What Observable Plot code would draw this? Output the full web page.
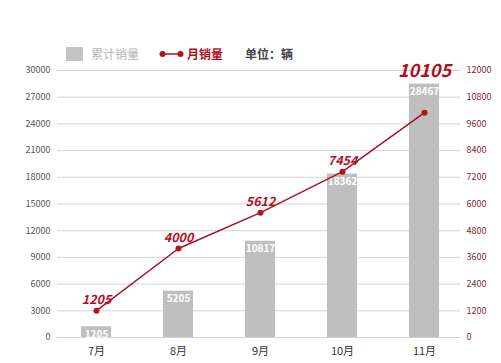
<!DOCTYPE html>
<html><head><meta charset="utf-8">
<script src="https://cdn.jsdelivr.net/npm/d3@7"></script>
<script src="https://cdn.jsdelivr.net/npm/@observablehq/plot@0.6"></script>
<style>
body{margin:0;background:#fff;font-family:"Noto Sans CJK SC","Noto Sans",sans-serif}
#wrap{position:relative;width:501px;height:363px;overflow:hidden}
#legend{position:absolute;left:0;top:0;width:501px;height:70px}
.sw{position:absolute;left:66px;top:47px;width:17px;height:14px;background:#c4c4c4}
.t{position:absolute;top:45px;font-size:12px;line-height:18px;white-space:nowrap}
#chart{position:absolute;left:0;top:0}
</style></head>
<body>
<div id="wrap">
<div id="chart"></div>
<div id="legend">
  <div class="sw"></div>
  <div class="t" style="left:91px;color:#b4b4b4">累计销量</div>
  <svg style="position:absolute;left:158px;top:49px" width="28" height="10">
    <line x1="4" y1="5" x2="23" y2="5" stroke="#a8121f" stroke-width="1.5"/>
    <circle cx="4.5" cy="5" r="3" fill="#b5121b"/>
    <circle cx="22.5" cy="5" r="3" fill="#b5121b"/>
  </svg>
  <div class="t" style="left:187px;color:#b0101e;font-weight:bold">月销量</div>
  <div class="t" style="left:245px;color:#444;font-weight:bold">单位：辆</div>
</div>
</div>
<script>
const months = ["7月", "8月", "9月", "10月", "11月"];
const cumulative = [1205, 5205, 10817, 18362, 28467];
const monthly = [1205, 4000, 5612, 7454, 10105];
const leftTicks = [0, 3000, 6000, 9000, 12000, 15000, 18000, 21000, 24000, 27000, 30000];
const rightTicks = [0, 1200, 2400, 3600, 4800, 6000, 7200, 8400, 9600, 10800, 12000];
const ratio = 30000 / 12000;

const data = months.map((m, i) => ({
  month: m, cum: cumulative[i], mon: monthly[i], monScaled: monthly[i] * ratio
}));

const chart = Plot.plot({
  width: 501, height: 363,
  marginLeft: 57, marginRight: 41, marginTop: 70, marginBottom: 26,
  style: {fontFamily: '"Noto Sans CJK SC","Noto Sans",sans-serif', background: "transparent"},
  x: {domain: months, range: [52.5, 466.5], paddingInner: 0.64, paddingOuter: 0.32, axis: null},
  y: {domain: [0, 30000], axis: null},
  marks: [
    Plot.ruleY(leftTicks, {stroke: "#d4d4d4", strokeWidth: 1}),
    Plot.barY(data, {x: "month", y: "cum", fill: "#bfbfbf"}),
    Plot.text(data, {x: "month", y: "cum", text: d => String(d.cum), dy: 8,
      fill: "white", fontWeight: "bold", fontSize: 10}),
    Plot.line(data, {x: "month", y: "monScaled", stroke: "#a8121f", strokeWidth: 1.5}),
    Plot.dot(data, {x: "month", y: "monScaled", r: 3, fill: "#b5121b"}),
    // monthly label sits above whichever is higher: the point or the bar top
    Plot.text(data, {x: "month", y: d => Math.max(d.monScaled, d.cum), text: d => String(d.mon),
      fill: "#b0101e", fontWeight: "bold", fontStyle: "italic",
      fontSize: d => d.month === "11月" ? 18 : 12.5,
      lineAnchor: "bottom", dy: -7}),
    Plot.axisY(leftTicks, {anchor: "left", tickSize: 0, tickPadding: 7, label: null,
      tickFormat: d => String(d), fill: "#555", fontSize: 9}),
    Plot.axisY(rightTicks.map(v => v * ratio), {anchor: "right", tickSize: 0, tickPadding: 6, label: null,
      tickFormat: d => String(Math.round(d / ratio)), fill: "#7a2a36", fontSize: 9}),
    Plot.axisX({tickSize: 0, tickPadding: 10, fontSize: 11, fill: "#333", label: null})
  ]
});
document.getElementById("chart").appendChild(chart);
</script>
</body></html>
